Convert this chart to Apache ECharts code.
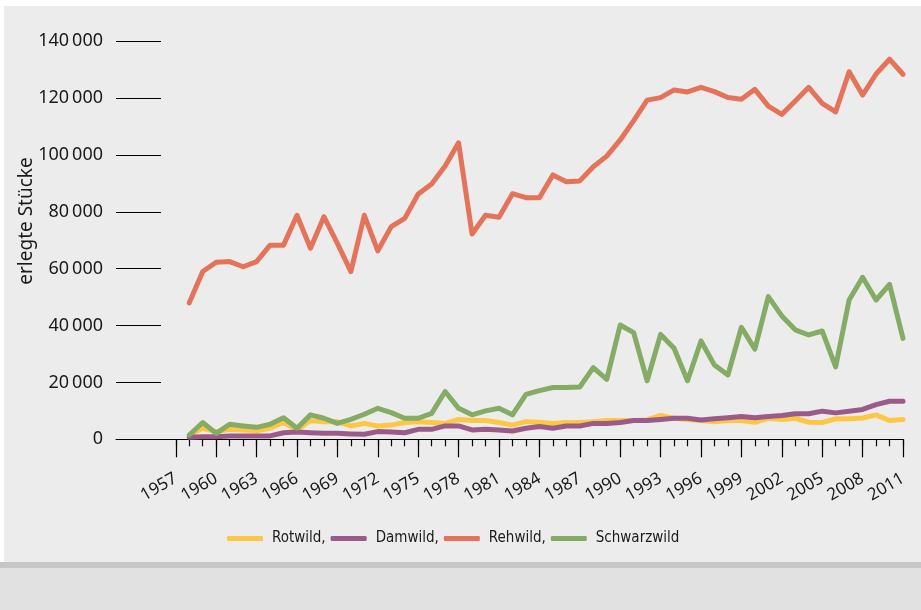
<!DOCTYPE html>
<html>
<head>
<meta charset="utf-8">
<title>erlegte Stücke</title>
<script src="https://cdn.jsdelivr.net/npm/echarts@6/dist/echarts.min.js"></script>
<style>
  html, body { margin: 0; padding: 0; width: 921px; height: 610px; background: #ffffff; overflow: hidden; }
  .panel { position: absolute; left: 4px; top: 6px; width: 917px; height: 556px; background: #ececec; }
  .stripe { position: absolute; left: 0; top: 562px; width: 921px; height: 6px; background: #c5c6c5; }
  .foot { position: absolute; left: 0; top: 568px; width: 921px; height: 42px; background: #e1e1e1; }
  #main { position: absolute; left: 0; top: 0; width: 921px; height: 610px; }
</style>
</head>
<body>
<div class="panel"></div>
<div class="stripe"></div>
<div class="foot"></div>
<div id="main"></div>
<script>
// Jahre (Jagdjahre), Werte in Stück
var years = [];
for (var y = 1958; y <= 2011; y++) years.push(y);

var rotwild = [1500, 3900, 2700, 3500, 3300, 3000, 3900, 5900, 3300, 6600,
  6200, 6200, 4700, 5600, 4700, 5000, 5900, 6200, 5900, 5600,
  7000, 6600, 6600, 5900, 5000, 6200, 6000, 5600, 5900, 5900,
  6200, 6600, 6600, 6600, 6800, 8400, 7400, 7000, 6600, 6200,
  6600, 6600, 6000, 7400, 7000, 7400, 6000, 5900, 7200, 7200,
  7500, 8600, 6600, 7000];

var damwild = [700, 900, 900, 1200, 1200, 1200, 1200, 2300, 2600, 2300,
  2100, 2100, 1900, 1800, 2700, 2600, 2300, 3500, 3500, 4700,
  4700, 3300, 3500, 3300, 2900, 3900, 4500, 3900, 4700, 4700,
  5600, 5600, 5900, 6600, 6600, 7000, 7400, 7400, 6800, 7200,
  7600, 8000, 7600, 8000, 8400, 9000, 9000, 9900, 9300, 9900,
  10500, 12200, 13400, 13400];

var rehwild = [48000, 59000, 62300, 62500, 60700, 62500, 68300, 68300, 78800, 67200,
  78300, 68900, 59000, 78800, 66300, 74800, 77700, 86300, 89800, 96100,
  104300, 72200, 78800, 78100, 86400, 85000, 85000, 93000, 90600, 90900,
  95900, 99600, 105300, 112100, 119300, 120200, 122900, 122200, 123800, 122300,
  120200, 119600, 123100, 117200, 114300, 119000, 123800, 118200, 115200, 129300,
  121100, 128500, 133700, 128400];

var schwarzwild = [1500, 5900, 2100, 5300, 4700, 4200, 5300, 7600, 3900, 8600,
  7400, 5600, 7000, 8800, 10900, 9400, 7400, 7400, 9100, 16800,
  10900, 8600, 10000, 10900, 8600, 15800, 17100, 18200, 18200, 18400,
  25200, 21100, 40200, 37500, 20600, 36900, 32000, 20600, 34600, 26100,
  22600, 39400, 31700, 50200, 43400, 38500, 36700, 38100, 25500, 49000,
  57000, 49000, 54500, 35500];

var labelYears = [];
for (var l = 1957; l <= 2011; l += 3) labelYears.push(l);
var minorYears = [];
for (var m = 1957; m <= 2011; m++) minorYears.push(m);

var seriesNames = ['Rotwild,', 'Damwild,', 'Rehwild,', 'Schwarzwild'];
var seriesData = [rotwild, damwild, rehwild, schwarzwild];
var colors = ['#fdc743', '#9a5b8b', '#e4735a', '#84ac64'];

var font = '"Noto Sans", "Open Sans", sans-serif';
var narrow = '"DejaVu Sans Condensed", "Noto Sans", sans-serif';

var chart = echarts.init(document.getElementById('main'));

var series = seriesNames.map(function (name, i) {
  return {
    name: name,
    type: 'line',
    symbol: 'none',
    color: colors[i],
    lineStyle: { width: 5, color: colors[i], cap: 'round', join: 'round' },
    data: years.map(function (yr, k) { return [yr, seriesData[i][k]]; })
  };
});

chart.setOption({
  animation: false,
  backgroundColor: 'transparent',
  textStyle: { fontFamily: font },
  grid: { left: 116, right: 18, top: 41.3, bottom: 170.7 },
  legend: {
    data: seriesNames,
    left: 222,
    top: 526,
    icon: 'roundRect',
    itemWidth: 36,
    itemHeight: 5,
    itemGap: 5,
    textStyle: { fontFamily: narrow, fontSize: 15, color: '#1a1a1a', padding: [0, 0, 0, 4] }
  },
  graphic: [{
    type: 'text',
    x: 27,
    y: 221,
    rotation: Math.PI / 2,
    style: {
      text: 'erlegte Stücke',
      font: '19px ' + font,
      fill: '#1a1a1a',
      align: 'center',
      verticalAlign: 'middle'
    }
  }],
  xAxis: [{
    type: 'value',
    min: 1952.56,
    max: 2011,
    splitLine: { show: false },
    axisLine: { show: true, onZero: false, lineStyle: { color: '#000', width: 1 } },
    axisTick: { show: true, length: 18, customValues: labelYears, lineStyle: { color: '#000', width: 1.2 } },
    axisLabel: {
      customValues: labelYears,
      rotate: 30,
      margin: 38,
      fontSize: 17,
      color: '#1a1a1a',
      fontFamily: font,
      formatter: function (v) { return String(v); }
    }
  }, {
    type: 'value',
    min: 1952.56,
    max: 2011,
    position: 'bottom',
    splitLine: { show: false },
    axisLine: { show: false, onZero: false },
    axisTick: { show: true, length: 7, customValues: minorYears, lineStyle: { color: '#000', width: 1.2 } },
    axisLabel: { show: false }
  }],
  yAxis: {
    type: 'value',
    min: 0,
    max: 140000,
    interval: 20000,
    splitLine: { show: false },
    axisLine: { show: false },
    axisTick: { show: true, inside: true, length: 45, lineStyle: { color: '#000', width: 1.2 } },
    axisLabel: {
      margin: 13,
      fontSize: 18,
      color: '#1a1a1a',
      fontFamily: font,
      formatter: function (v) {
        return String(v).replace(/(\d)(?=(\d{3})+$)/, '$1\u2009');
      }
    }
  },
  series: series
});
</script>
</body>
</html>
